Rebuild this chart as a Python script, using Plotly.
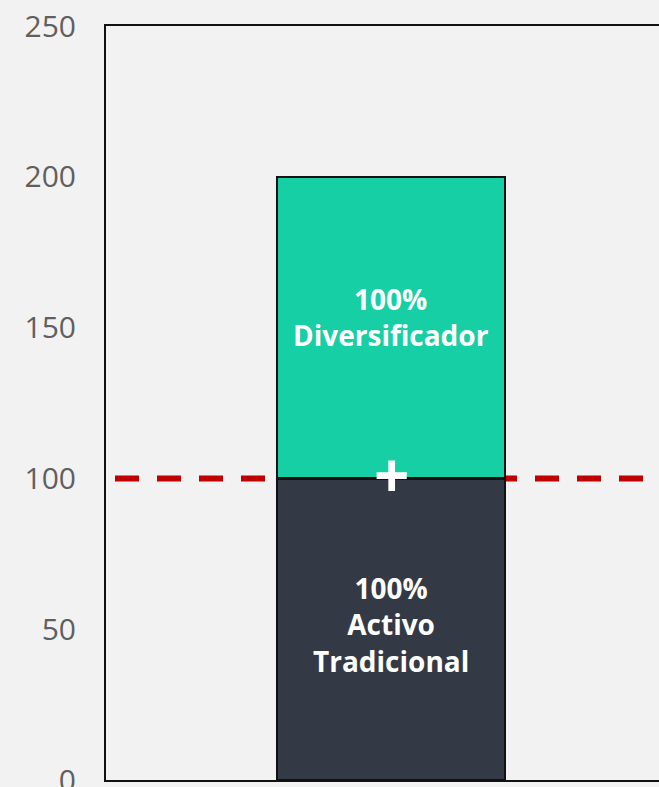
import plotly.graph_objects as go

categories = [0]
tradicional = [100]
diversificador = [100]
labels_trad = "100%<br>Activo<br>Tradicional"
labels_div = "100%<br>Diversificador"
ref_value = 100
y_ticks = [0, 50, 100, 150, 200, 250]

FONT = "Open Sans"

fig = go.Figure()
fig.add_trace(go.Bar(
    x=categories, y=tradicional, width=1,
    marker=dict(color="#333a45", line=dict(color="#111111", width=2.5)),
    hoverinfo="skip",
))
fig.add_trace(go.Bar(
    x=categories, y=diversificador, width=1,
    marker=dict(color="#16cfa5", line=dict(color="#111111", width=2.5)),
    hoverinfo="skip",
))

fig.add_shape(type="line", xref="x", yref="y", x0=-1.2105, x1=1.3,
              y0=ref_value, y1=ref_value, layer="below",
              line=dict(color="#c00000", width=6, dash="24px,18px"))

fig.add_annotation(x=categories[0], y=tradicional[0] / 2, text=labels_trad, showarrow=False,
                   font=dict(family=FONT, size=28, color="white", weight="bold"), yshift=5)
fig.add_annotation(x=categories[0], y=tradicional[0] + diversificador[0] / 2, text=labels_div,
                   showarrow=False,
                   font=dict(family=FONT, size=28, color="white", weight="bold"), yshift=11)
fig.add_annotation(x=categories[0], y=tradicional[0], text="+", showarrow=False,
                   font=dict(family=FONT, size=62, color="white", weight="bold"), yshift=4)

fig.update_layout(
    width=659, height=787,
    margin=dict(l=106, r=0, t=26, b=7),
    paper_bgcolor="#f2f2f2", plot_bgcolor="#f2f2f2",
    barmode="stack", showlegend=False,
    xaxis=dict(range=[-1.25, 1.175], showticklabels=False, showgrid=False, zeroline=False,
               showline=True, mirror=True, linecolor="#111111", linewidth=2, ticks="",
               automargin=False),
    yaxis=dict(range=[0, 250], tickvals=y_ticks, showgrid=False, zeroline=False,
               showline=True, linecolor="#111111", linewidth=2,
               ticks="outside", ticklen=22, tickcolor="rgba(0,0,0,0)",
               ticklabeloverflow="allow", automargin=False,
               tickfont=dict(family=FONT, size=30, color="#5f5f5f")),
)

fig.write_html("out.html")
